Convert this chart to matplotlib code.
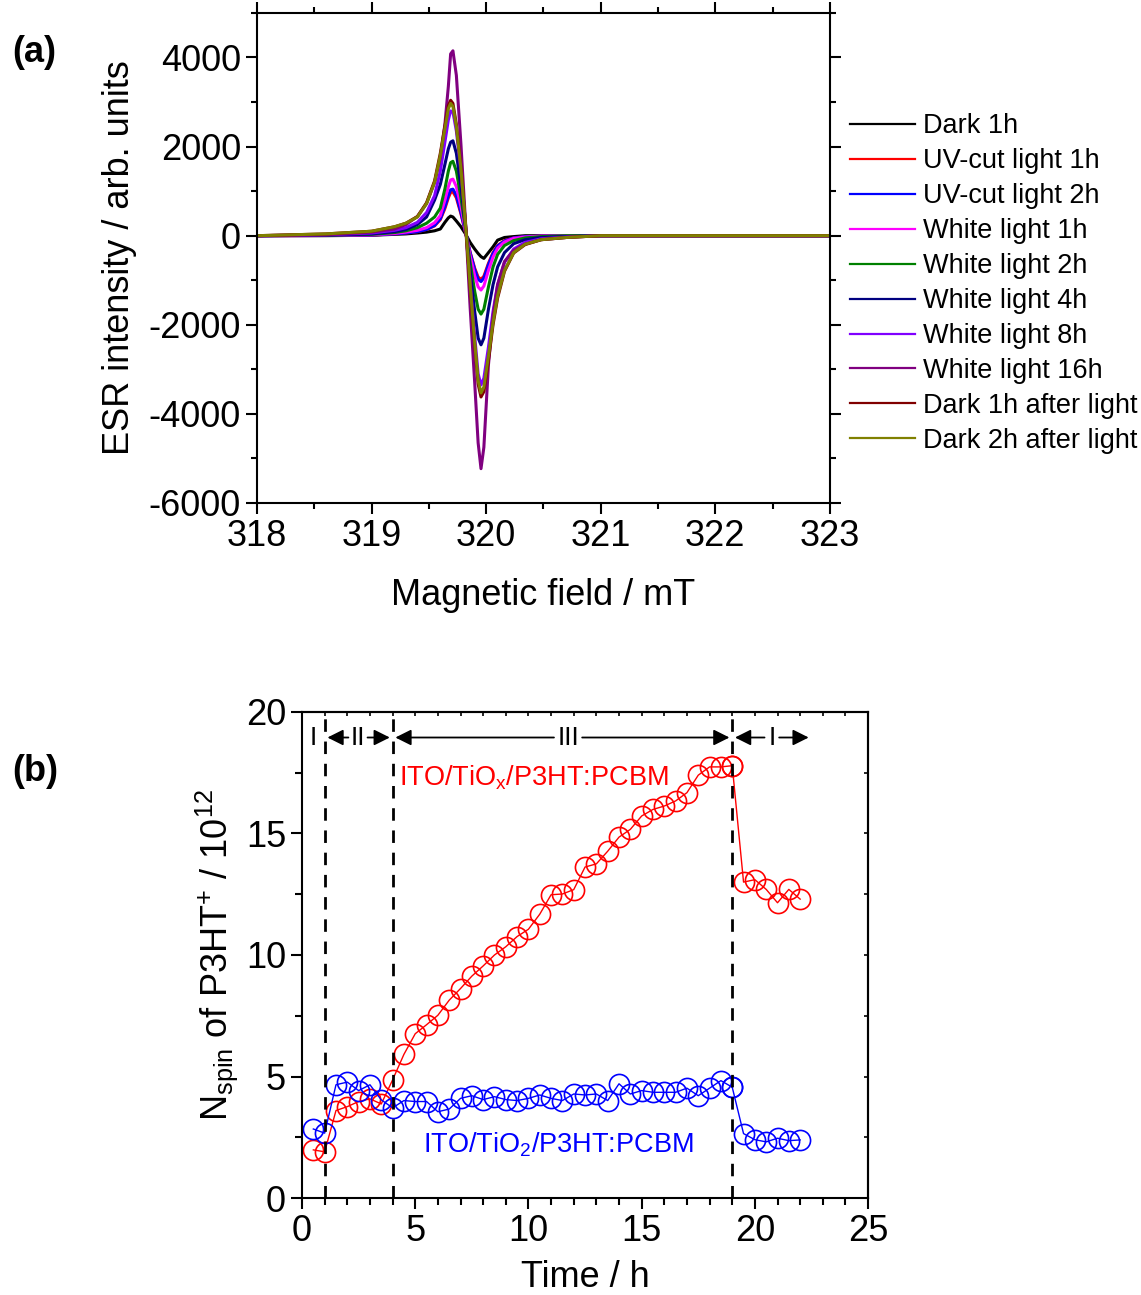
import numpy as np
import matplotlib
matplotlib.use("Agg")
import matplotlib.pyplot as plt
from matplotlib.ticker import MultipleLocator

plt.rcParams['font.family'] = ['Liberation Sans', 'DejaVu Sans']
plt.rcParams['mathtext.fontset'] = 'custom'
plt.rcParams['mathtext.rm'] = 'Liberation Sans'
plt.rcParams['mathtext.it'] = 'Liberation Sans'
plt.rcParams['axes.unicode_minus'] = False

# ---- (a) ESR spectra, field grid in mT, intensity in arb. units ----
field = [318.0, 318.6, 319.0, 319.2, 319.3, 319.4, 319.48, 319.55, 319.6, 319.64,
         319.67, 319.69, 319.71, 319.74, 319.78, 319.82, 319.86, 319.9, 319.93, 319.955,
         319.98, 320.02, 320.06, 320.1, 320.16, 320.24, 320.34, 320.48, 320.7, 321.0, 323.0]

dark_1h = [0, 0, 10, 30, 40, 60, 80, 110, 150, 300, 400, 440, 420, 330, 200, 40, -150, -300,
           -400, -470, -510, -380, -250, -100, -40, -20, 0, 0, 0, 0, 0]
uv_1h = [0, 5, 15, 40, 60, 90, 140, 220, 360, 610, 850, 970, 985, 850, 490, 70, -370, -730,
         -930, -980, -910, -620, -380, -220, -110, -50, -20, -10, 0, 0, 0]
uv_2h = [0, 5, 15, 40, 60, 90, 140, 230, 380, 650, 900, 1030, 1045, 900, 520, 80, -380, -760,
         -980, -1030, -950, -650, -400, -230, -120, -50, -20, -10, 0, 0, 0]
white_1h = [0, 5, 20, 50, 80, 120, 180, 290, 450, 800, 1100, 1250, 1270, 1100, 650, 100, -450,
            -900, -1150, -1220, -1130, -780, -480, -280, -140, -60, -30, -10, 0, 0, 0]
white_2h = [0, 10, 30, 70, 110, 180, 280, 420, 620, 1050, 1450, 1640, 1670, 1450, 850, 150, -600,
            -1250, -1650, -1760, -1650, -1150, -700, -420, -220, -110, -50, -20, 0, 0, 0]
white_4h = [0, 10, 40, 90, 140, 250, 420, 800, 1150, 1600, 1950, 2100, 2130, 1850, 1100, 200, -800,
            -1700, -2300, -2450, -2300, -1650, -1100, -700, -380, -180, -90, -40, -20, 0, 0]
white_8h = [0, 20, 60, 120, 180, 300, 520, 900, 1450, 2100, 2600, 2800, 2780, 2350, 1450, 250,
            -1050, -2250, -3100, -3350, -3200, -2500, -1700, -1100, -600, -300, -150, -70, -30, 0, 0]
white_16h = [0, 20, 80, 150, 250, 430, 720, 1200, 1750, 2500, 3350, 4080, 4150, 3600, 2050, 300,
             -1600, -3300, -4650, -5230, -4750, -2900, -1800, -1100, -580, -330, -190, -90, -40, 0, 0]
dark_1h_after = [0, 40, 100, 200, 280, 430, 740, 1230, 1850, 2460, 2920, 3040, 2970, 2500, 1530, 250,
                 -1150, -2450, -3330, -3620, -3500, -2800, -2000, -1400, -800, -390, -200, -90, -40, 0, 0]
dark_2h_after = [0, 40, 100, 200, 280, 420, 720, 1200, 1800, 2400, 2850, 2970, 2900, 2450, 1500, 250,
                 -1100, -2400, -3250, -3530, -3400, -2700, -1950, -1350, -780, -380, -190, -90, -40, 0, 0]

spectra = [dark_1h, uv_1h, uv_2h, white_1h, white_2h, white_4h, white_8h, white_16h,
           dark_1h_after, dark_2h_after]
spectra_labels = ["Dark 1h", "UV-cut light 1h", "UV-cut light 2h", "White light 1h",
                  "White light 2h", "White light 4h", "White light 8h", "White light 16h",
                  "Dark 1h after light", "Dark 2h after light"]
spectra_colors = ["#000000", "#FF0000", "#0000FF", "#FF00FF", "#008000", "#000080",
                  "#8000FF", "#800080", "#800000", "#808000"]

# ---- (b) spin number vs time ----
t_before = [0.5, 1, 1.5, 2, 2.5, 3, 3.5, 4, 4.5, 5, 5.5, 6, 6.5, 7, 7.5, 8, 8.5, 9, 9.5, 10,
            10.5, 11, 11.5, 12, 12.5, 13, 13.5, 14, 14.5, 15, 15.5, 16, 16.5, 17, 17.5, 18, 18.5, 19]
t_after = [19.5, 20, 20.5, 21, 21.5, 22]

tiox_before = [1.98, 1.9, 3.6, 3.76, 3.97, 4.08, 3.87, 4.86, 5.91, 6.76, 7.13, 7.52, 8.14, 8.62,
               9.13, 9.55, 10.0, 10.34, 10.76, 11.06, 11.68, 12.48, 12.51, 12.69, 13.62, 13.75,
               14.27, 14.85, 15.17, 15.72, 15.99, 16.13, 16.34, 16.68, 17.4, 17.74, 17.74, 17.79]
tiox_after = [13.0, 13.1, 12.7, 12.15, 12.7, 12.3]

tio2_before = [2.84, 2.67, 4.66, 4.77, 4.42, 4.66, 4.04, 3.71, 4.01, 3.97, 3.97, 3.55, 3.66, 4.10,
               4.21, 4.05, 4.17, 4.05, 4.01, 4.10, 4.24, 4.10, 4.01, 4.28, 4.24, 4.28, 4.01, 4.70,
               4.28, 4.42, 4.35, 4.35, 4.35, 4.52, 4.21, 4.52, 4.83, 4.56]
tio2_after = [2.65, 2.40, 2.31, 2.46, 2.36, 2.39]

stage_bounds = [1, 4, 19]

fig = plt.figure(figsize=(11.41, 12.95), dpi=100)

# ---------------- panel (a) ----------------
ax1 = fig.add_axes([0.2252, 0.6116, 0.5022, 0.3784])
for y, lab, c in zip(spectra, spectra_labels, spectra_colors):
    ax1.plot(field, y, color=c, lw=2.2, label=lab)
ax1.set_xlim(318, 323)
ax1.set_ylim(-6000, 5000)
ax1.xaxis.set_major_locator(MultipleLocator(1))
ax1.xaxis.set_minor_locator(MultipleLocator(0.5))
ax1.yaxis.set_major_locator(MultipleLocator(2000))
ax1.yaxis.set_minor_locator(MultipleLocator(1000))
ax1.set_yticks([-6000, -4000, -2000, 0, 2000, 4000])
ax1.tick_params(which='both', direction='out', top=True, right=True, width=1.5, labelsize=26)
ax1.tick_params(which='major', length=8)
ax1.tick_params(which='minor', length=4)
for s in ax1.spines.values():
    s.set_linewidth(1.5)
ax1.set_xlabel("Magnetic field / mT", fontsize=26, labelpad=17)
ax1.set_ylabel("ESR intensity / arb. units", fontsize=26, labelpad=8)
leg = ax1.legend(loc='upper left', bbox_to_anchor=(1.035, 0.795), frameon=False, fontsize=19.5,
                 handlelength=2.4, handletextpad=0.3, labelspacing=0.33, borderpad=0,
                 borderaxespad=0)
for h in leg.get_lines():
    h.set_linewidth(1.6)
fig.text(0.011, 0.952, "(a)", fontsize=26, fontweight='bold')

# ---------------- panel (b) ----------------
ax2 = fig.add_axes([0.2647, 0.0749, 0.4961, 0.3753])
mk = dict(marker='o', ms=14.5, mfc='none', mew=1.2, lw=1.0)
ax2.plot(t_before, tiox_before, color='#FF0000', **mk)
ax2.plot([t_before[-1]] + t_after, [tiox_before[-1]] + tiox_after, color='#FF0000', **mk)
ax2.plot(t_before, tio2_before, color='#0000FF', **mk)
ax2.plot([t_before[-1]] + t_after, [tio2_before[-1]] + tio2_after, color='#0000FF', **mk)
for xb in stage_bounds:
    ax2.axvline(xb, color='black', ls=(0, (4.5, 3.5)), lw=2)

ax2.set_xlim(0, 25)
ax2.set_ylim(0, 20)
ax2.xaxis.set_major_locator(MultipleLocator(5))
ax2.xaxis.set_minor_locator(MultipleLocator(1))
ax2.yaxis.set_major_locator(MultipleLocator(5))
ax2.yaxis.set_minor_locator(MultipleLocator(2.5))
ax2.tick_params(which='both', direction='out', width=1.5, labelsize=26)
ax2.tick_params(which='major', length=8)
ax2.tick_params(which='minor', length=5)
for s in ax2.spines.values():
    s.set_linewidth(1.5)
top = ax2.secondary_xaxis('top')
top.xaxis.set_major_locator(MultipleLocator(5))
top.xaxis.set_minor_locator(MultipleLocator(1))
top.tick_params(which='both', direction='in', length=3, width=1.2, labeltop=False)
right = ax2.secondary_yaxis('right')
right.yaxis.set_major_locator(MultipleLocator(5))
right.yaxis.set_minor_locator(MultipleLocator(2.5))
right.tick_params(which='both', direction='in', length=3, width=1.2, labelright=False)
for sec in (top, right):
    for s in sec.spines.values():
        s.set_linewidth(1.5)

ax2.set_xlabel("Time / h", fontsize=26, labelpad=8)
ax2.set_ylabel(r"N$_\mathregular{spin}$ of P3HT$^\mathregular{+}$ / 10$^\mathregular{12}$", fontsize=26)

# stage labels with arrows
ya = 18.95
arrow = dict(arrowstyle='-|>', color='black', lw=1.3, mutation_scale=24)
ax2.text(0.5, ya, "I", fontsize=19, ha='center', va='center')
stages = [("II", 2.47, 1, 4, 0.3), ("III", 11.75, 4, 19, 0.5), ("I", 20.75, 19, 22.5, 0.2)]
for lab, xc, x0, x1, gap in stages:
    ax2.text(xc, ya, lab, fontsize=19, ha='center', va='center')
    ax2.annotate('', xy=(x0, ya), xytext=(xc - gap, ya), arrowprops=arrow)
    ax2.annotate('', xy=(x1, ya), xytext=(xc + gap, ya), arrowprops=arrow)

ax2.text(4.3, 17.3, r"ITO/TiO$_\mathregular{x}$/P3HT:PCBM", color='#FF0000', fontsize=19.5,
         ha='left', va='center')
ax2.text(5.35, 2.2, r"ITO/TiO$_\mathregular{2}$/P3HT:PCBM", color='#0000FF', fontsize=19.5,
         ha='left', va='center')
fig.text(0.011, 0.397, "(b)", fontsize=26, fontweight='bold')

fig.savefig("out.png", dpi=100)
